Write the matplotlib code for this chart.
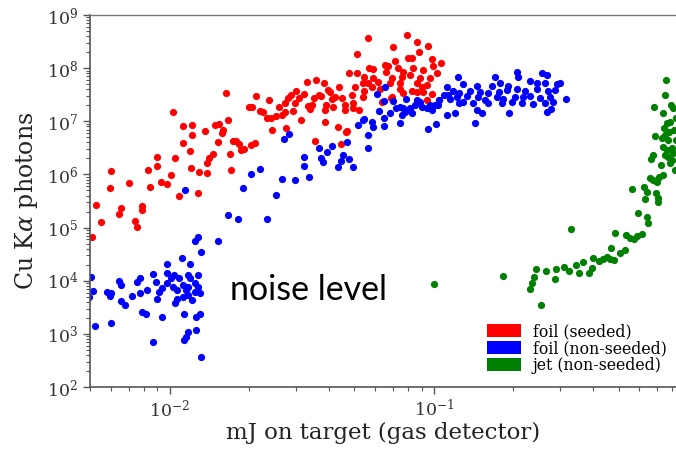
import matplotlib
matplotlib.use("Agg")
import matplotlib.pyplot as plt
from matplotlib.patches import Patch
from matplotlib.ticker import NullFormatter

plt.rcParams['font.family'] = 'DejaVu Serif'
plt.rcParams['mathtext.fontset'] = 'dejavuserif'

# foil target, seeded
seeded_x = [0.00510, 0.00528, 0.00548, 0.00593, 0.00598, 0.00642, 0.00653, 0.00700, 0.00743, 0.00756,
            0.00790, 0.00790, 0.00832, 0.00840, 0.00893, 0.00900, 0.00932, 0.00974, 0.0101, 0.0103,
            0.0105, 0.0109, 0.0112, 0.0112, 0.0119, 0.0121, 0.0122, 0.0122, 0.0128, 0.0129,
            0.0136, 0.0138, 0.0138, 0.0141, 0.0146, 0.0148, 0.0154, 0.0153, 0.0158, 0.0159,
            0.0164, 0.0166, 0.0169, 0.0171, 0.0174, 0.0179, 0.0183, 0.0187, 0.0192, 0.0199,
            0.0206, 0.0203, 0.0210, 0.0213, 0.0219, 0.0225, 0.0233, 0.0241, 0.0237, 0.0245,
            0.0252, 0.0259, 0.0266, 0.0273, 0.0273, 0.0275, 0.0280, 0.0287, 0.0292, 0.0299,
            0.0302, 0.0308, 0.0314, 0.0322, 0.0331, 0.0334, 0.0339, 0.0345, 0.0352, 0.0355,
            0.0358, 0.0367, 0.0373, 0.0383, 0.0386, 0.0390, 0.0386, 0.0397, 0.0404, 0.0411,
            0.0415, 0.0422, 0.0433, 0.0437, 0.0445, 0.0449, 0.0460, 0.0460, 0.0468, 0.0476,
            0.0491, 0.0496, 0.0496, 0.0503, 0.0512, 0.0512, 0.0521, 0.0539, 0.0539, 0.0544,
            0.0544, 0.0563, 0.0563, 0.0568, 0.0583, 0.0588, 0.0588, 0.0614, 0.0625, 0.0636,
            0.0655, 0.0670, 0.0660, 0.0682, 0.0688, 0.0694, 0.0694, 0.0700, 0.0712, 0.0731,
            0.0744, 0.0744, 0.0757, 0.0764, 0.0764, 0.0790, 0.0796, 0.0825, 0.0811, 0.0825,
            0.0832, 0.0861, 0.0861, 0.0861, 0.0876, 0.0885, 0.0901, 0.0909, 0.0909, 0.0943,
            0.0943, 0.0951, 0.0966, 0.0983, 0.0983, 0.0992, 0.1027, 0.106, 0.105, 0.0464]
seeded_y = [6.6e4, 2.66e5, 1.27e5, 5.56e5, 1.16e6, 1.80e5, 2.33e5, 6.90e5, 1.33e5, 1.03e5,
            2.54e5, 2.14e5, 1.21e6, 5.80e5, 1.44e6, 2.13e6, 7.20e5, 6.61e5, 9.74e5, 1.49e7,
            2.04e6, 3.93e5, 8.17e6, 3.91e6, 2.76e6, 1.32e6, 8.53e6, 5.52e6, 4.48e5, 1.11e6,
            6.57e6, 1.06e6, 1.64e6, 2.04e6, 2.42e6, 8.53e6, 8.91e6, 4.08e6, 6.02e6, 6.86e6,
            3.41e7, 1.06e7, 2.42e6, 1.21e6, 4.26e6, 4.26e6, 3.74e6, 2.88e6, 3.01e6, 1.86e7,
            1.86e7, 3.58e6, 3.91e6, 2.99e7, 1.56e7, 1.49e7, 1.15e7, 1.15e7, 2.52e7, 6.86e6,
            1.26e7, 1.86e7, 1.31e7, 1.49e7, 2.21e7, 7.50e6, 2.74e7, 3.12e7, 1.56e7, 2.21e7,
            3.72e7, 2.74e7, 1.06e7, 3.26e7, 5.48e7, 1.94e7, 1.71e7, 2.03e7, 2.74e7, 4.26e6,
            5.98e7, 3.12e7, 2.99e7, 5.25e7, 1.63e7, 2.03e7, 9.72e6, 3.88e7, 3.56e7, 2.63e7,
            1.86e7, 2.86e7, 7.83e6, 4.42e7, 3.74e6, 2.74e7, 2.03e7, 1.63e7, 6.57e6, 8.10e7,
            3.12e7, 2.21e7, 1.78e7, 4.42e7, 1.85e8, 8.10e7, 1.63e7, 5.25e7, 2.86e7, 6.82e7,
            3.72e7, 3.70e8, 5.25e7, 1.00e8, 4.42e7, 9.64e7, 6.53e7, 5.48e7, 4.05e7, 2.31e7,
            1.14e8, 1.10e8, 8.46e7, 5.25e7, 2.74e7, 6.53e7, 2.86e7, 2.50e8, 1.36e8, 1.00e8,
            5.25e7, 4.05e7, 6.82e7, 8.46e7, 3.41e7, 4.21e8, 1.56e8, 1.56e8, 7.43e7, 3.72e7,
            1.00e8, 3.11e8, 5.25e7, 3.56e7, 2.02e8, 6.53e7, 4.42e7, 9.23e7, 3.56e7, 4.81e7,
            2.52e7, 2.61e8, 6.53e7, 1.49e8, 3.26e7, 1.10e8, 8.10e7, 1.25e8, 2.52e7, 6.29e6]

# foil target, non-seeded
nonseeded_x = [0.00497, 0.00506, 0.00515, 0.00524, 0.00582, 0.00598, 0.00593, 0.00603, 0.00642, 0.00653,
               0.00653, 0.00676, 0.00724, 0.00756, 0.00776, 0.00776, 0.00790, 0.00817, 0.00824, 0.00863,
               0.00863, 0.00886, 0.00900, 0.00916, 0.00940, 0.00940, 0.00974, 0.00982, 0.00982, 0.0101,
               0.0103, 0.0104, 0.0105, 0.0107, 0.0107, 0.0109, 0.0111, 0.0112, 0.0112, 0.0113,
               0.0113, 0.0115, 0.0115, 0.0117, 0.0117, 0.0117, 0.0117, 0.0119, 0.0120, 0.0122,
               0.0125, 0.0125, 0.0125, 0.0126, 0.0126, 0.0128, 0.0128, 0.0128, 0.0130, 0.0130,
               0.0131, 0.0132, 0.0153, 0.0114, 0.0167, 0.0182, 0.0189, 0.0204, 0.0219, 0.0233,
               0.0252, 0.0266, 0.0271, 0.0283, 0.0299, 0.0322, 0.0322, 0.0336, 0.0367, 0.0373,
               0.0380, 0.0393, 0.0411, 0.0433, 0.0445, 0.0453, 0.0468, 0.0476, 0.0496, 0.0516,
               0.0539, 0.0563, 0.0563, 0.0583, 0.0588, 0.0610, 0.0620, 0.0647, 0.0647, 0.0647,
               0.0655, 0.0682, 0.0719, 0.0744, 0.0744, 0.0757, 0.0764, 0.0777, 0.0784, 0.0811,
               0.0825, 0.0847, 0.0885, 0.0901, 0.0943, 0.0951, 0.0966, 0.0983, 0.101, 0.102,
               0.104, 0.105, 0.109, 0.112, 0.112, 0.113, 0.115, 0.118, 0.120, 0.122,
               0.123, 0.125, 0.125, 0.129, 0.129, 0.133, 0.137, 0.141, 0.143, 0.146,
               0.146, 0.147, 0.149, 0.152, 0.156, 0.160, 0.160, 0.166, 0.171, 0.174,
               0.176, 0.178, 0.181, 0.183, 0.190, 0.191, 0.193, 0.197, 0.203, 0.207,
               0.207, 0.208, 0.216, 0.218, 0.222, 0.231, 0.231, 0.237, 0.245, 0.245,
               0.252, 0.257, 0.264, 0.264, 0.268, 0.268, 0.271, 0.275, 0.277, 0.283,
               0.287, 0.292, 0.300, 0.316, 0.0700, 0.0861, 0.0544]
nonseeded_y = [4.94e3, 1.17e4, 6.41e3, 1.40e3, 6.13e3, 5.87e3, 5.16e3, 1.60e3, 9.87e3, 8.29e3,
               4.16e3, 3.49e3, 5.16e3, 9.44e3, 1.12e4, 5.87e3, 2.58e3, 2.36e3, 6.69e3, 1.34e4,
               702, 9.44e3, 4.53e3, 6.13e3, 7.28e3, 2.08e3, 1.40e4, 2.06e4, 9.04e3, 1.12e4,
               7.61e3, 1.28e4, 3.81e3, 6.69e3, 4.53e3, 1.12e4, 2.67e4, 8.29e3, 4.94e3, 2.36e3,
               766, 6.69e3, 871, 1.28e4, 7.61e3, 5.39e3, 1.08e3, 1.12e4, 2.06e4, 4.34e3,
               5.59e4, 9.04e3, 6.13e3, 2.08e3, 1.18e3, 6.65e4, 1.28e4, 7.61e3, 5.87e3, 2.36e3,
               367, 3.46e4, 5.59e4, 5.10e5, 1.72e5, 1.45e5, 5.56e5, 1.02e6, 1.27e6, 1.45e5,
               4.11e5, 8.20e5, 4.65e6, 5.77e6, 7.86e5, 2.13e6, 1.44e6, 8.94e5, 3.15e6, 2.04e6,
               1.71e6, 2.64e6, 3.43e6, 1.38e6, 1.79e6, 2.32e6, 4.08e6, 1.95e6, 1.38e6, 8.53e6,
               1.06e7, 5.52e6, 3.15e6, 9.72e6, 7.83e6, 3.26e7, 1.56e7, 2.41e7, 1.15e7, 8.17e6,
               4.42e7, 1.43e7, 1.78e7, 1.86e7, 9.31e6, 1.31e7, 1.78e7, 1.49e7, 2.63e7, 1.78e7,
               1.43e7, 2.03e7, 2.31e7, 1.86e7, 1.78e7, 7.18e6, 2.03e7, 1.63e7, 2.03e7, 8.91e6,
               2.03e7, 2.52e7, 3.12e7, 4.42e7, 1.31e7, 3.12e7, 2.63e7, 3.72e7, 1.43e7, 2.86e7,
               6.82e7, 3.41e7, 2.21e7, 5.03e7, 2.31e7, 2.99e7, 3.72e7, 2.21e7, 9.31e6, 4.61e7,
               1.63e7, 2.86e7, 3.56e7, 1.43e7, 2.52e7, 3.41e7, 2.21e7, 4.61e7, 6.82e7, 2.86e7,
               3.56e7, 5.25e7, 2.21e7, 2.63e7, 3.88e7, 4.61e7, 1.43e7, 2.31e7, 2.86e7, 8.46e7,
               4.05e7, 6.82e7, 2.21e7, 2.86e7, 3.72e7, 5.73e7, 2.99e7, 2.12e7, 5.25e7, 4.05e7,
               2.74e7, 8.10e7, 5.25e7, 2.21e7, 7.43e7, 1.49e7, 3.72e7, 2.86e7, 1.71e7, 2.31e7,
               3.88e7, 5.03e7, 5.25e7, 2.63e7, 2.41e7, 2.52e7, 1.11e7]

# gas jet, non-seeded
jet_x = [0.100, 0.183, 0.330, 0.243, 0.239, 0.235, 0.231, 0.254, 0.266, 0.287,
         0.290, 0.310, 0.324, 0.345, 0.354, 0.368, 0.387, 0.398, 0.401, 0.422,
         0.437, 0.452, 0.464, 0.480, 0.468, 0.507, 0.530, 0.485, 0.534, 0.553,
         0.573, 0.588, 0.616, 0.593, 0.640, 0.645, 0.563, 0.624, 0.641, 0.630,
         0.694, 0.706, 0.706, 0.676, 0.700, 0.658, 0.694, 0.737, 0.712, 0.783,
         0.818, 0.664, 0.676, 0.752, 0.769, 0.737, 0.760, 0.797, 0.804, 0.687,
         0.731, 0.752, 0.769, 0.760, 0.783, 0.682, 0.737, 0.790, 0.804, 0.752,
         0.758, 0.811, 0.826, 0.776, 0.797, 0.724, 0.826, 0.745]
jet_y = [8.66e3, 1.23e4, 9.42e4, 1.66e4, 1.17e4, 9.04e3, 6.98e3, 3.49e3, 1.52e4, 1.08e4,
         1.66e4, 1.81e4, 1.52e4, 1.97e4, 1.40e4, 2.25e4, 1.40e4, 1.73e4, 2.67e4, 2.35e4,
         2.56e4, 2.79e4, 2.56e4, 2.45e4, 4.13e4, 3.32e4, 3.78e4, 7.90e4, 7.25e4, 6.36e4,
         6.10e4, 6.94e4, 7.57e4, 1.88e5, 1.58e5, 1.22e5, 5.33e5, 5.80e5, 4.67e5, 3.46e5,
         4.48e5, 3.61e5, 3.02e5, 7.86e5, 7.20e5, 8.56e5, 7.53e5, 9.74e5, 8.94e5, 1.64e6,
         1.21e6, 1.95e6, 2.32e6, 2.32e6, 2.13e6, 3.29e6, 2.88e6, 3.15e6, 2.53e6, 5.29e6,
         4.85e6, 5.52e6, 4.45e6, 9.31e6, 9.72e6, 1.86e7, 1.43e7, 2.03e7, 1.78e7, 3.12e7,
         5.98e7, 6.86e6, 4.45e6, 6.29e6, 1.87e6, 1.51e6, 1.15e7, 7.50e6]

series_labels = ['foil (seeded)', 'foil (non-seeded)', 'jet (non-seeded)']
series_colors = ['#ff0000', '#0000ff', '#008000']

fig = plt.figure(figsize=(6.76, 4.5), dpi=100)
ax = fig.add_axes([90 / 676, 63 / 450, 586 / 676, 372 / 450])

for xs, ys, col in zip([seeded_x, nonseeded_x, jet_x],
                       [seeded_y, nonseeded_y, jet_y], series_colors):
    ax.scatter(xs, ys, s=27, c=col, linewidths=0)

ax.set_xscale('log')
ax.set_yscale('log')
ax.set_xlim(0.005, 0.825)
ax.set_ylim(1e2, 1e9)
ax.xaxis.set_minor_formatter(NullFormatter())
ax.yaxis.set_minor_formatter(NullFormatter())

ax.set_xlabel('mJ on target (gas detector)', fontsize=16.5, color='#222222', labelpad=1)
ax.set_ylabel(r'Cu K$\alpha$ photons', fontsize=17, color='#222222', labelpad=5)

ax.tick_params(which='major', direction='out', length=5, width=1, color='#555555',
               labelsize=12.5, labelcolor='#333333', top=False, right=False)
ax.tick_params(which='minor', direction='out', length=3, width=0.8, color='#555555',
               top=False, right=False)
for side in ['left', 'bottom']:
    ax.spines[side].set_color('#555555')
    ax.spines[side].set_linewidth(1.2)
ax.spines['top'].set_color('#777777')
ax.spines['top'].set_linewidth(1.0)
ax.spines['right'].set_visible(False)

handles = [Patch(facecolor=c, edgecolor='none') for c in series_colors]
fig.legend(handles, series_labels, loc='upper left', frameon=False, fontsize=11.3,
           bbox_to_anchor=(487 / 676, 1 - 323 / 450), bbox_transform=fig.transFigure,
           handlelength=2.15, handleheight=0.85, labelspacing=0.0, handletextpad=0.75,
           borderpad=0, borderaxespad=0)

fig.text(230 / 676, 1 - 300 / 450, 'noise level', family='Lato', fontsize=24.5,
         va='baseline', ha='left', color='black')

fig.savefig('out.png', dpi=100)
